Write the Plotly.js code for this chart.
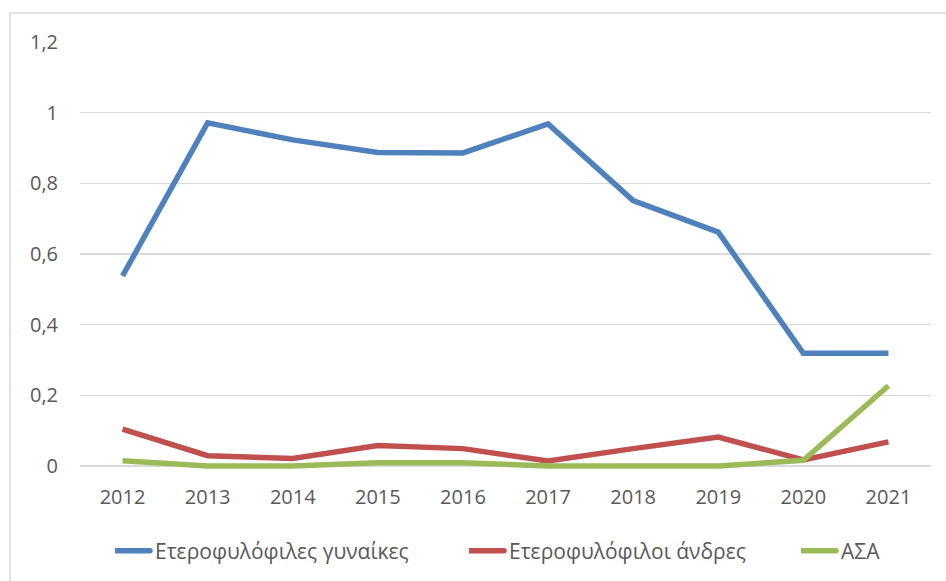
<!DOCTYPE html>
<html>
<head>
<meta charset="utf-8">
<script src="https://cdn.plot.ly/plotly-3.0.1.min.js"></script>
<style>
  html, body { margin: 0; padding: 0; background: #ffffff; }
  #chart { width: 946px; height: 581px; }
</style>
</head>
<body>
<div id="chart"></div>
<script>
const years = ['2012', '2013', '2014', '2015', '2016', '2017', '2018', '2019', '2020', '2021'];
const heteroWomen = [0.538, 0.971, 0.923, 0.887, 0.886, 0.968, 0.751, 0.662, 0.319, 0.319];
const heteroMen = [0.104, 0.029, 0.021, 0.058, 0.049, 0.014, 0.049, 0.082, 0.017, 0.068];
const msm = [0.015, 0.0, 0.0, 0.009, 0.009, 0.0, 0.0, 0.0, 0.016, 0.227];
const seriesNames = ['Ετεροφυλόφιλες γυναίκες', 'Ετεροφυλόφιλοι άνδρες', 'ΑΣΑ'];
const yTicks = [0, 0.2, 0.4, 0.6, 0.8, 1.0, 1.2];
const yTickText = ['0', '0,2', '0,4', '0,6', '0,8', '1', '1,2'];

const FONT = '"Open Sans", "Noto Sans", "DejaVu Sans", sans-serif';
const TXT = '#595959';

const traces = [
  { x: years, y: heteroWomen, name: seriesNames[0], legend: 'legend',
    type: 'scatter', mode: 'lines', line: { color: '#4F81BD', width: 5.5 } },
  { x: years, y: heteroMen, name: seriesNames[1], legend: 'legend2',
    type: 'scatter', mode: 'lines', line: { color: '#C0504D', width: 5.5 } },
  { x: years, y: msm, name: seriesNames[2], legend: 'legend3',
    type: 'scatter', mode: 'lines', line: { color: '#9BBB59', width: 5.5 } }
];

function legendAt(xpx) {
  return {
    x: xpx / 946, xref: 'container', xanchor: 'left',
    y: (581 - 551) / 581, yref: 'container', yanchor: 'middle',
    orientation: 'h', bgcolor: 'rgba(0,0,0,0)', borderwidth: 0,
    font: { family: FONT, size: 21, color: TXT }
  };
}

const layout = {
  width: 946, height: 581,
  margin: { l: 80, r: 15, t: 42, b: 108, pad: 0 },
  paper_bgcolor: '#ffffff', plot_bgcolor: '#ffffff',
  font: { family: FONT, size: 20, color: TXT },
  showlegend: true,
  legend: legendAt(157 - 42),
  legend2: legendAt(511 - 42),
  legend3: legendAt(843 - 42),
  xaxis: {
    type: 'category', range: [-0.5, 9.5], fixedrange: true,
    showgrid: false, zeroline: false, showline: false, ticks: '',
    ticklabelstandoff: 10,
    tickfont: { family: FONT, size: 20, color: TXT }
  },
  yaxis: {
    range: [-0.02, 1.2], fixedrange: true,
    tickvals: yTicks, ticktext: yTickText,
    showgrid: true, gridcolor: '#D9D9D9', gridwidth: 1.5,
    zeroline: false, showline: false, ticks: '',
    ticklabelstandoff: 21,
    tickfont: { family: FONT, size: 20, color: TXT }
  },
  shapes: [{
    type: 'rect', xref: 'paper', yref: 'paper',
    x0: (10 - 80) / 851, x1: (948 - 80) / 851,
    y0: (473 - 583) / 431, y1: (473 - 13) / 431,
    line: { color: '#D9D9D9', width: 1.5 }, fillcolor: 'rgba(0,0,0,0)', layer: 'below'
  }]
};

Plotly.newPlot('chart', traces, layout, { displayModeBar: false, staticPlot: true }).then(function (gd) {
  gd.querySelectorAll('.legendlines path').forEach(function (p) {
    p.setAttribute('d', 'M-20,0h55');
    p.style.strokeLinecap = 'round';
  });
});
</script>
</body>
</html>
